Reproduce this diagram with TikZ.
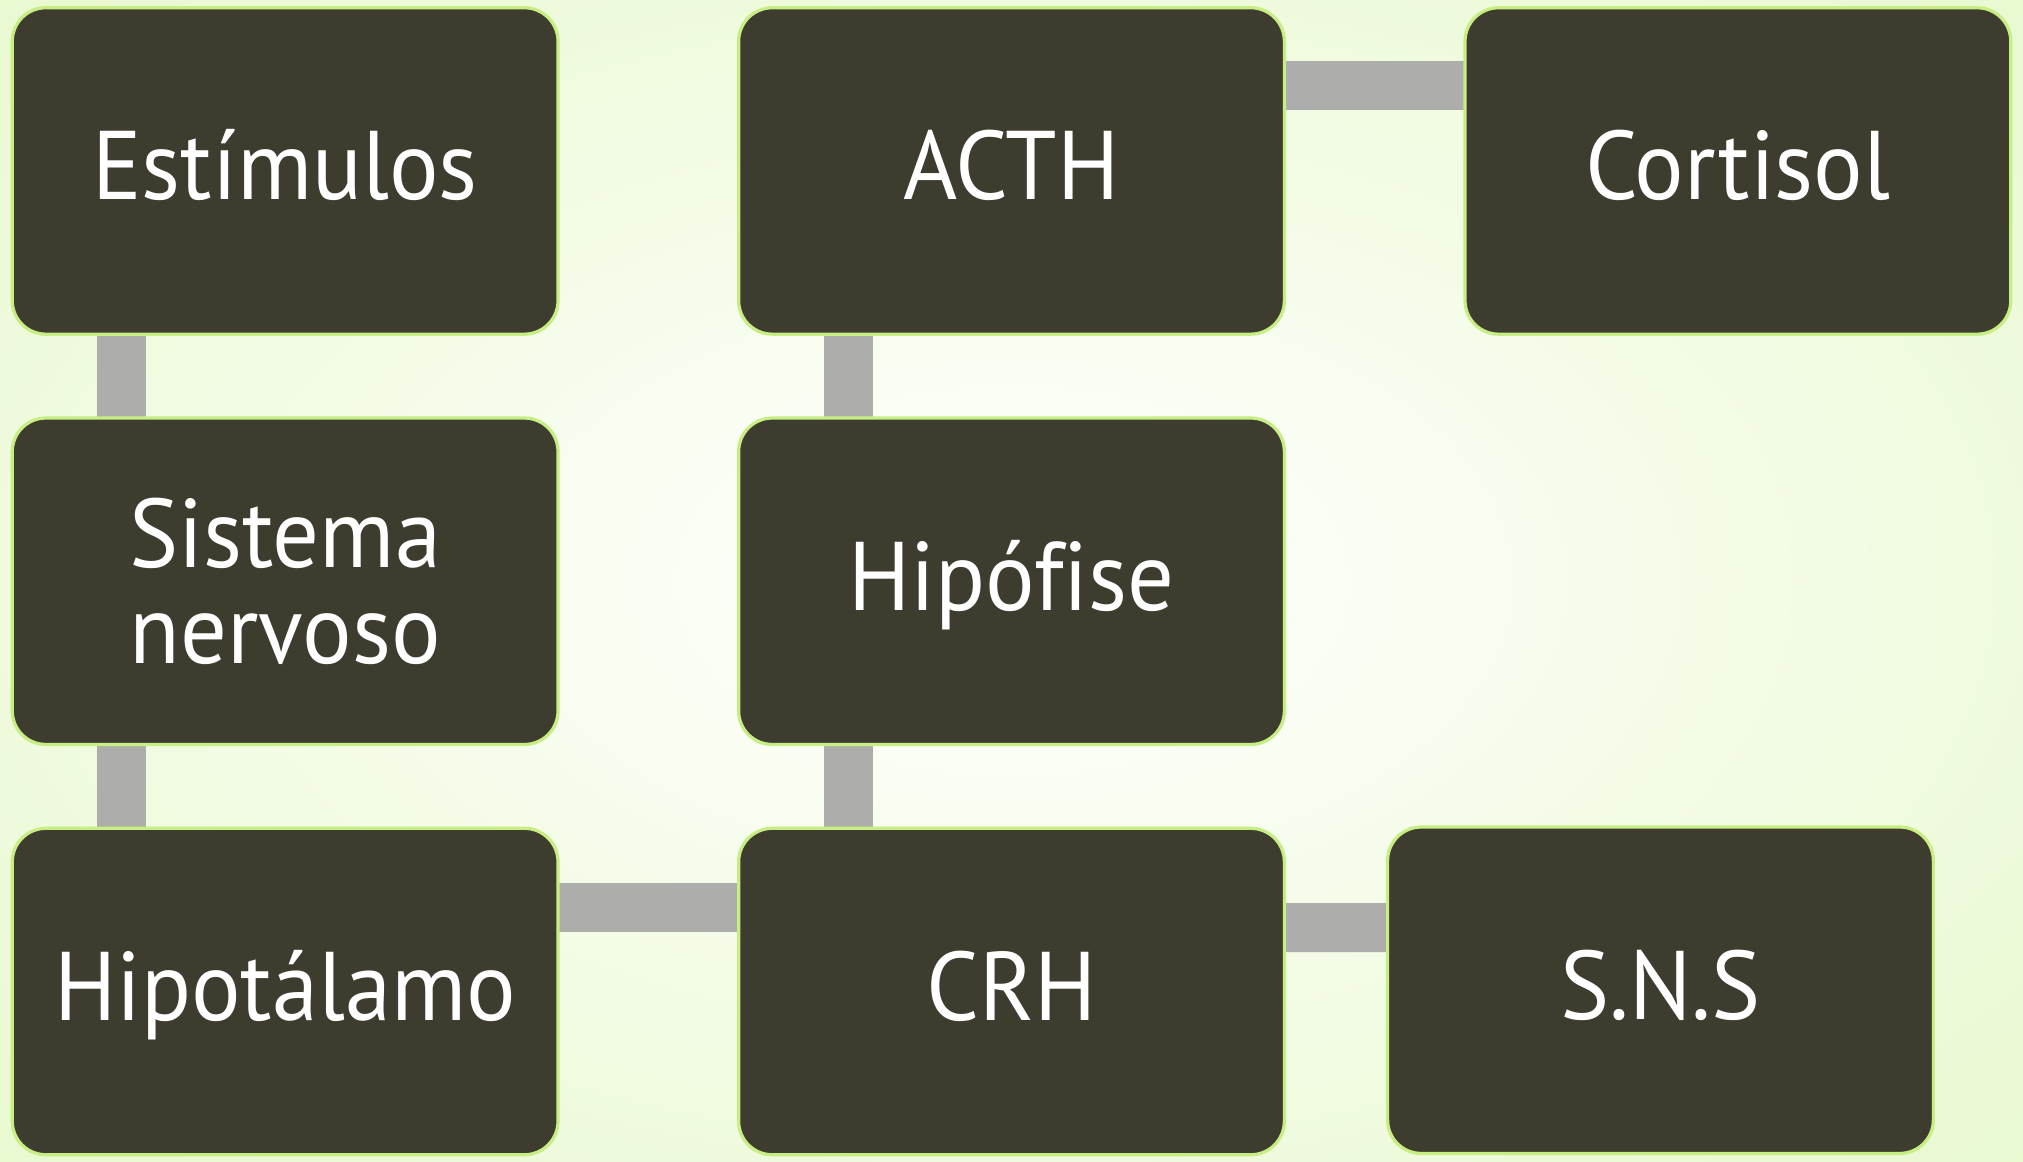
\documentclass[tikz,border=0pt]{standalone}
\usepackage{fontspec}
\setmainfont{PT Sans}[FakeStretch=0.95, Ligatures=NoCommon]
\usetikzlibrary{positioning,backgrounds}

\definecolor{boxfill}{HTML}{3E3C2F}
\definecolor{boxline}{HTML}{C6EE82}
\definecolor{barcol}{HTML}{ADADAB}
\definecolor{bgedge}{HTML}{DCF5B6}

\tikzset{
	box/.style={draw=boxline, line width=0.25mm, fill=boxfill, rounded corners=2.6mm,
		minimum width=42.3mm, minimum height=25.3mm, text=white, align=center,
		font=\fontsize{21.5pt}{21.3pt}\selectfont, outer sep=0pt},
	word/.style={box, text height=6mm, text depth=1.5mm},
	bar/.style={draw=barcol, line width=3.8mm},
}

\begin{document}
\begin{tikzpicture}
		\node[word] at (2.21,-1.325) (est) {Estímulos};
		\node[box, below=6.5mm of est] (sis) {Sistema\\nervoso};
		\node[word, below=6.5mm of sis] (hip) {Hipotálamo};
		\node[word, right=14mm of hip] (crh) {CRH};
		\node[word, above=6.5mm of crh] (hpf) {Hipófise};
		\node[word, above=6.5mm of hpf] (acth) {ACTH};
		\node[word, right=14mm of acth] (cort) {Cortisol};
		\node[word, right=8mm of crh, yshift=0.1mm] (sns) {S.N.S};
		
		\begin{scope}[on background layer]
		\begin{scope}
		\clip (0,0) rectangle (15.68,-9.0);
		\shade[inner color=white, outer color=bgedge] (-9.4,5.4) rectangle (25.08,-14.4);
		\end{scope}
		
		\draw[bar] ([xshift=8.45mm]est.south west) -- ([xshift=8.45mm]sis.north west);
		\draw[bar] ([xshift=8.45mm]sis.south west) -- ([xshift=8.45mm]hip.north west);
		\draw[bar] ([yshift=-6.1mm]hip.north east) -- ([yshift=-6.1mm]crh.north west);
		\draw[bar] ([xshift=8.55mm]crh.north west) -- ([xshift=8.55mm]hpf.south west);
		\draw[bar] ([xshift=8.55mm]hpf.north west) -- ([xshift=8.55mm]acth.south west);
		\draw[bar] ([yshift=-6.0mm]acth.north east) -- ([yshift=-6.0mm]cort.north west);
		\draw[bar] ([yshift=-7.7mm]crh.north east) -- ([yshift=-7.8mm]sns.north west);
		\end{scope}
		\useasboundingbox (0,0) rectangle (15.68,-9.0);
\end{tikzpicture}
\end{document}
